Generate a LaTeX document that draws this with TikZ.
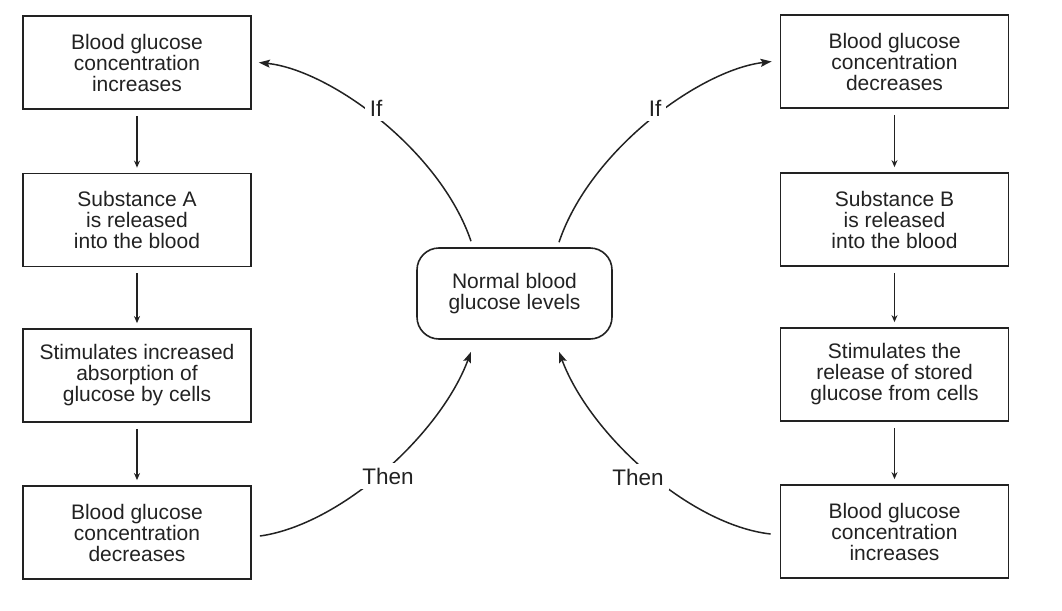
\documentclass[tikz,border=0pt]{standalone}
\usepackage{fontspec}
\setmainfont{Liberation Sans}
\usetikzlibrary{arrows.meta}
\definecolor{ink}{HTML}{222222}
\begin{document}
\begin{tikzpicture}[x=1pt,y=-1pt,
  every node/.style={font=\fontsize{21}{21}\selectfont, text=ink},
  stepbox/.style={draw=ink, line width=1.8pt, fill=white, minimum width=228pt, minimum height=93pt, align=center, inner sep=0pt},
  centerbox/.style={draw=ink, line width=1.6pt, rounded corners=22pt, minimum width=195pt, minimum height=91pt, align=center, inner sep=0pt},
  varr/.style={draw=ink, line width=1.2pt, -{Stealth[length=7pt,width=6pt]}},
  carr/.style={draw=ink, line width=1.5pt, -{Stealth[length=11pt,width=8pt,inset=2pt]}},
  lab/.style={fill=white, inner sep=5pt, font=\fontsize{22.5}{22.5}\selectfont}]
\useasboundingbox (0,0) rectangle (1062,610);

% left column
\node[stepbox] (L1) at (137,62.5) {Blood glucose\\concentration\\increases};
\node[stepbox] (L2) at (137,220) {Substance A\\is released\\into the blood};
\node[stepbox] (L3) at (137,375.5) {Stimulates increased\\absorption of\\glucose by cells};
\node[stepbox] (L4) at (137,532.5) {Blood glucose\\concentration\\decreases};

% right column
\node[stepbox] (R1) at (894.5,61.5) {Blood glucose\\concentration\\decreases};
\node[stepbox] (R2) at (894.5,219.5) {Substance B\\is released\\into the blood};
\node[stepbox] (R3) at (894.5,374.5) {Stimulates the\\release of stored\\glucose from cells};
\node[stepbox] (R4) at (894.5,531.5) {Blood glucose\\concentration\\increases};

% center
\node[centerbox] (C) at (514.5,293.5) {Normal blood\\glucose levels};

% vertical arrows
\draw[varr] ([yshift=-6pt]L1.south) -- ([yshift=5pt]L2.north);
\draw[varr] ([yshift=-6pt]L2.south) -- ([yshift=5pt]L3.north);
\draw[varr] ([yshift=-6pt]L3.south) -- ([yshift=5pt]L4.north);
\draw[varr] ([yshift=-6pt]R1.south) -- ([yshift=5pt]R2.north);
\draw[varr] ([yshift=-6pt]R2.south) -- ([yshift=5pt]R3.north);
\draw[varr] ([yshift=-6pt]R3.south) -- ([yshift=5pt]R4.north);

% curved connectors
\draw[carr] ([xshift=-43.5pt,yshift=6pt]C.north) .. controls (440,150) and (330,70) .. ([xshift=7pt]L1.east);
\draw[carr] ([xshift=44.5pt,yshift=5pt]C.north) .. controls (590,150) and (700,70) .. ([xshift=-8pt]R1.west);
\draw[carr] ([xshift=8pt,yshift=-3.5pt]L4.east) .. controls (340,525) and (440,435) .. ([xshift=-43.5pt,yshift=-12pt]C.south);
\draw[carr] ([xshift=-9pt,yshift=-2.5pt]R4.west) .. controls (690,525) and (590,435) .. ([xshift=44.5pt,yshift=-12pt]C.south);

% labels
\node[lab] (ifL) at (376,108) {If};
\node[lab] (ifR) at (655,108) {If};
\node[lab] (thenL) at (388,476) {Then};
\node[lab] (thenR) at (638,477) {Then};
\end{tikzpicture}
\end{document}
